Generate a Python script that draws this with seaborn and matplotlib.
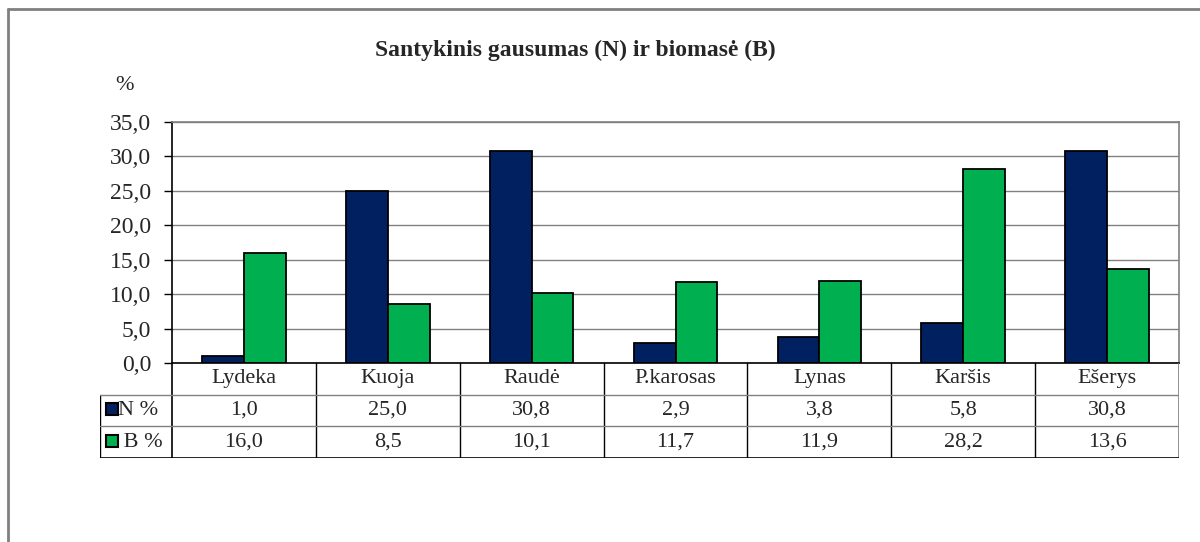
import seaborn as sns
import matplotlib
matplotlib.use("Agg")
import matplotlib.pyplot as plt
from matplotlib.lines import Line2D
from matplotlib.ticker import FuncFormatter, MultipleLocator
import pandas as pd

# duomenys
species = ["Lydeka", "Kuoja", "Raudė", "P.karosas", "Lynas", "Karšis", "Ešerys"]
n_pct = [1.0, 25.0, 30.8, 2.9, 3.8, 5.8, 30.8]
b_pct = [16.0, 8.5, 10.1, 11.7, 11.9, 28.2, 13.6]
series_names = ["N %", "B %"]
row_labels = ["N %", " B %"]
colors = ["#002060", "#00B050"]

sns.set_style("white")
plt.rcParams["font.family"] = ["Liberation Serif", "DejaVu Serif"]

df = pd.DataFrame({
    "species": species * 2,
    "value": n_pct + b_pct,
    "series": [series_names[0]] * len(species) + [series_names[1]] * len(species),
})

W, H = 1200, 542
fig = plt.figure(figsize=(W / 100, H / 100), dpi=100)

# rėmelis
grey = "#808080"
fig.add_artist(Line2D([8 / W, 8 / W], [0, 1 - 9 / H], color=grey, lw=2))
fig.add_artist(Line2D([8 / W, 1], [1 - 9 / H, 1 - 9 / H], color=grey, lw=2))

x0, x1, y_top, y_zero, y_tab = 172, 1179, 122, 363, 458
ax = fig.add_axes([x0 / W, (H - y_zero) / H, (x1 - x0) / W, (y_zero - y_top) / H])
sns.barplot(data=df, x="species", y="value", hue="series", order=species,
            hue_order=series_names, palette=colors, width=0.58, gap=0,
            edgecolor="black", linewidth=1.3, saturation=1, legend=False, ax=ax)
ax.set_xlim(-0.5, len(species) - 0.5)
ax.set_ylim(0, 35)
ax.yaxis.set_major_locator(MultipleLocator(5))
ax.yaxis.set_major_formatter(FuncFormatter(lambda v, p: f"{v:.1f}".replace(".", ",")))
ax.set_xticks([])
ax.set_xlabel("")
ax.set_ylabel("")
ax.grid(axis="y", color=grey, lw=1)
ax.set_axisbelow(True)
ax.tick_params(axis="y", length=6, width=1, color="black", labelsize=17, left=True, pad=9)
for s in ["left", "bottom"]:
    ax.spines[s].set_color("black")
    ax.spines[s].set_linewidth(1.2)
for s in ["top", "right"]:
    ax.spines[s].set_color(grey)
    ax.spines[s].set_linewidth(1.2)

fig.text(124 / W, 1 - 86 / H, "%", fontsize=16, ha="center", va="center")
fig.text(575 / W, 1 - 50 / H, "Santykinis gausumas (N) ir biomasė (B)",
         fontsize=17, fontweight="bold", ha="center", va="center")

# duomenų lentelė
tab = fig.add_axes([100 / W, (H - y_tab) / H, (x1 - 100) / W, (y_tab - y_zero) / H])
tab.set_xlim(-1.0, len(species) - 0.5)
tab.set_ylim(3, 0)
tab.axis("off")
n = len(species)
tab.plot([-0.5, -0.5], [0, 3], color="black", lw=1.2)
for i in range(1, n):
    tab.plot([i - 0.5, i - 0.5], [0, 3], color="black", lw=1)
tab.plot([n - 0.5, n - 0.5], [0, 3], color=grey, lw=1.2)
tab.plot([-1.0, -1.0], [1, 3], color="black", lw=1)
tab.plot([-1.0, n - 0.5], [1, 1], color=grey, lw=1)
tab.plot([-1.0, n - 0.5], [2, 2], color=grey, lw=1)
tab.plot([-1.0, n - 0.5], [3, 3], color="black", lw=1.2)
fs = 16
for i, name in enumerate(species):
    tab.text(i, 0.5, name, fontsize=fs, ha="center", va="center")
for r, vals in enumerate([n_pct, b_pct]):
    for i, v in enumerate(vals):
        tab.text(i, r + 1.5, f"{v:.1f}".replace(".", ","), fontsize=fs, ha="center", va="center")
    tab.plot(-0.92, r + 1.45, marker="s", markersize=8, markerfacecolor=colors[r],
             markeredgecolor="black", markeredgewidth=1.5, linestyle="none")
    tab.text(-0.875, r + 1.5, row_labels[r], fontsize=fs, ha="left", va="center")

fig.savefig("out.png", dpi=100)
